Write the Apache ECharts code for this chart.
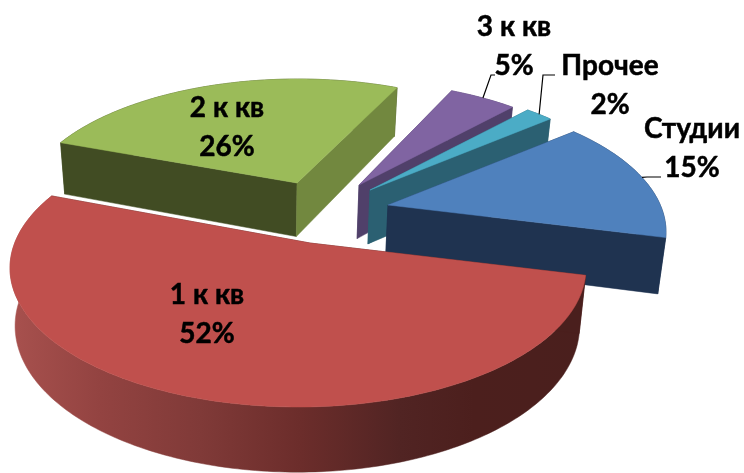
<!DOCTYPE html>
<html><head><meta charset="utf-8">
<style>html,body{margin:0;padding:0;background:#fff}#c{width:744px;height:473px}</style>
<script src="https://cdn.jsdelivr.net/npm/echarts@6/dist/echarts.min.js"></script>
</head><body><div id="c"></div>
<script>
// Data
const categories = ['Студии', '1 к кв', '2 к кв', '3 к кв', 'Прочее'];
const shares = [15, 52, 26, 5, 2];

// Exploded 3D pie projection and styling
const CENTER = [340, 200], START_ANGLE = 50, K = 0.47;
const LAYOUT = {
  'Студии': {off:[48,5], r:[290,137], o:[12,-27], top:'#4f81bd', rim:'#1f3350', start:'#1f3350', end:'#1f3350', order:4,
             label:[692,148], leader:[[-45,29],[-31,29]]},
  '1 к кв': {off:[-30,43], r:[288,139], o:[12,-25], top:'#c0504d', rim:'grad', start:'#4a1f1d', end:'#4a1f1d', order:5,
             label:[207,314]},
  '2 к кв': {off:[-43,-17], r:[276,130], o:[-1,-26], k:0.44, top:'#9bbb59', rim:'#414c23', start:'#414c23', end:'#72883f', order:1,
             label:[227,127]},
  '3 к кв': {off:[19,-15], r:[276,131], o:[12,-27], top:'#8064a2', rim:'#50406a', start:'#50406a', end:'#50406a', order:2,
             label:[514,46], leader:[[-23,29],[-19,29]]},
  'Прочее': {off:[30,-10], r:[282,134], o:[12,-27], top:'#4bacc6', rim:'#2b6072', start:'#2b6072', end:'#2b6072', order:3,
             label:[610,85], leader:[[-67,-10],[-55,-10]]}
};
const RED_WALL = {type:'linear', global:true, x:10, y:0, x2:590, y2:0, colorStops:[
  {offset:0, color:'#a8514e'}, {offset:0.155, color:'#934341'}, {offset:0.328, color:'#803a38'},
  {offset:0.5, color:'#6c2d2b'}, {offset:0.672, color:'#512423'}, {offset:0.8, color:'#4c1f1d'}, {offset:1, color:'#4a1f1d'}]};

const total = shares.reduce((a, b) => a + b, 0);
const rad = d => d * Math.PI / 180;

function rimPoint(A, L, deg) {
  const rx = L.r[0], ry = L.r[1], ox = L.o[0], oy = L.o[1];
  const dx = Math.sin(rad(deg)), dy = -(L.k || K) * Math.cos(rad(deg));
  const a = (dx*dx)/(rx*rx) + (dy*dy)/(ry*ry);
  const b = 2*(ox*dx/(rx*rx) + oy*dy/(ry*ry));
  const c = (ox*ox)/(rx*rx) + (oy*oy)/(ry*ry) - 1;
  const t = (-b + Math.sqrt(b*b - 4*a*c)) / (2*a);
  return [A[0] + t*dx, A[1] + t*dy];
}
const lower = p => [p[0] - 0.02*(p[0]-264), p[1] + 44 + 0.052*p[1]];
const poly = (points, fill, z2) => ({type:'polygon', shape:{points}, z2,
  style:{fill, stroke:fill, lineWidth:0.5}, silent:true});

function renderItem(params, api) {
  const i = params.dataIndex, value = api.value(0), name = categories[i], L = LAYOUT[name];
  let before = 0;
  for (let j = 0; j < i; j++) before += shares[j];
  const a0 = START_ANGLE + before/total*360, a1 = a0 + value/total*360;
  const A = [CENTER[0] + L.off[0], CENTER[1] + L.off[1]];
  const rim = [];
  for (let d = a0; d < a1; d += 1) rim.push(rimPoint(A, L, d));
  rim.push(rimPoint(A, L, a1));
  const base = L.order * 10;
  const kids = [];
  kids.push(poly(rim.concat(rim.map(lower).reverse()), L.rim === 'grad' ? RED_WALL : L.rim, base));
  const first = rim[0], last = rim[rim.length-1];
  kids.push(poly([A, first, lower(first), lower(A)], L.start, base+1));
  kids.push(poly([A, last, lower(last), lower(A)], L.end, base+2));
  kids.push(poly([A].concat(rim), L.top, base+3));
  if (L.leader) {
    const m = rimPoint(A, L, (a0+a1)/2);
    const pts = [m].concat(L.leader.map(o => [L.label[0]+o[0], L.label[1]+o[1]]));
    kids.push({type:'polyline', shape:{points:pts}, z2:90, silent:true,
      style:{fill:null, stroke:'#000', lineWidth:1.2}});
  }
  kids.push({type:'text', z2:100, silent:true, style:{
    text: name + '\n' + Math.round(value/total*100) + '%',
    x: L.label[0], y: L.label[1], align:'center', verticalAlign:'middle',
    fill:'#000', stroke:'#000', lineWidth:0.5, font:'bold 28px Lato', lineHeight:39}});
  return {type:'group', children:kids};
}

const chart = echarts.init(document.getElementById('c'), null, {renderer:'canvas'});
chart.setOption({
  animation:false,
  backgroundColor:'#fff',
  series:[{type:'custom', coordinateSystem:'none', renderItem,
    data: shares.map((v, i) => ({name:categories[i], value:[v]}))}]
});
</script></body></html>
